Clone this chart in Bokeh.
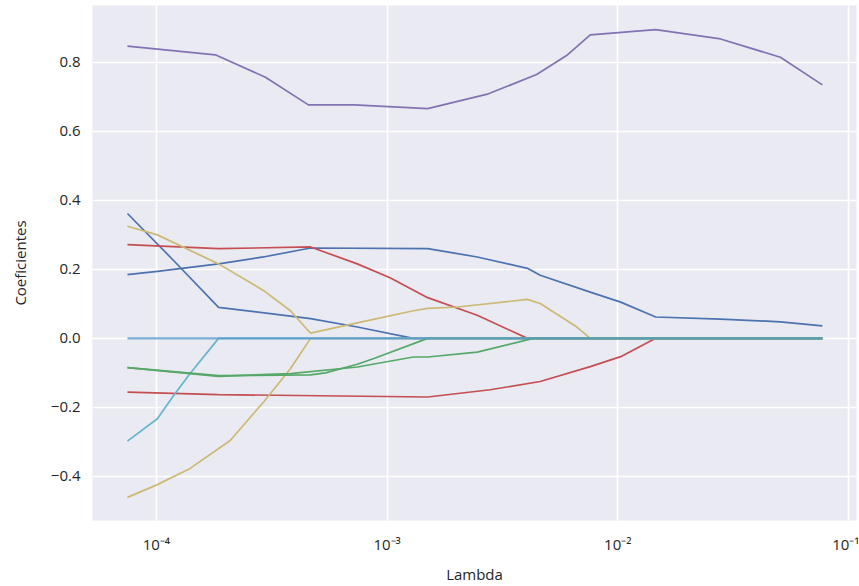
from bokeh.plotting import figure
from bokeh.models import FixedTicker, CustomJSTickFormatter, Range1d
from bokeh.embed import file_html
from bokeh.resources import INLINE

# ---- data (lambda, coefficient) ----
x_ticks = [1e-4, 1e-3, 1e-2, 1e-1]
y_ticks = [-0.4, -0.2, 0.0, 0.2, 0.4, 0.6, 0.8]

purple_lam = [7.49e-5, 1.80e-4, 2.97e-4, 4.56e-4, 7.2e-4, 1.50e-3, 2.75e-3, 4.45e-3, 6.0e-3, 7.60e-3, 1.46e-2, 2.79e-2, 5.07e-2, 7.71e-2]
purple_coef = [0.847, 0.822, 0.757, 0.677, 0.677, 0.666, 0.709, 0.765, 0.820, 0.880, 0.895, 0.868, 0.815, 0.735]

blue_a_lam = [7.49e-5, 1.01e-4, 1.86e-4, 2.91e-4, 4.66e-4, 1.50e-3, 2.46e-3, 4.06e-3, 4.61e-3, 7.60e-3, 1.03e-2, 1.46e-2, 2.79e-2, 5.07e-2, 7.71e-2]
blue_a_coef = [0.185, 0.194, 0.216, 0.236, 0.262, 0.260, 0.236, 0.203, 0.183, 0.134, 0.105, 0.062, 0.056, 0.048, 0.036]

blue_b_lam = [7.49e-5, 1.19e-4, 1.86e-4, 4.66e-4, 7.43e-4, 1.30e-3, 7.71e-2]
blue_b_coef = [0.362, 0.225, 0.090, 0.057, 0.033, 0.0, 0.0]

red_a_lam = [7.49e-5, 1.86e-4, 4.66e-4, 7.43e-4, 1.03e-3, 1.50e-3, 2.46e-3, 4.06e-3, 7.71e-2]
red_a_coef = [0.272, 0.260, 0.265, 0.216, 0.176, 0.118, 0.067, 0.0, 0.0]

red_b_lam = [7.49e-5, 1.86e-4, 1.50e-3, 2.80e-3, 4.61e-3, 7.60e-3, 1.03e-2, 1.46e-2, 7.71e-2]
red_b_coef = [-0.156, -0.163, -0.170, -0.149, -0.125, -0.082, -0.053, 0.0, 0.0]

yellow_a_lam = [7.49e-5, 1.01e-4, 1.86e-4, 2.91e-4, 3.81e-4, 4.66e-4, 7.43e-4, 1.30e-3, 1.50e-3, 2.02e-3, 4.06e-3, 4.61e-3, 6.55e-3, 7.60e-3, 7.71e-2]
yellow_a_coef = [0.325, 0.300, 0.216, 0.139, 0.080, 0.015, 0.045, 0.080, 0.087, 0.091, 0.113, 0.101, 0.036, 0.0, 0.0]

yellow_b_lam = [7.49e-5, 1.01e-4, 1.40e-4, 2.09e-4, 2.91e-4, 3.81e-4, 4.66e-4, 7.71e-2]
yellow_b_coef = [-0.461, -0.424, -0.377, -0.296, -0.185, -0.088, 0.0, 0.0]

cyan_lam = [7.49e-5, 1.01e-4, 1.19e-4, 1.40e-4, 1.86e-4, 7.71e-2]
cyan_coef = [-0.298, -0.233, -0.165, -0.102, 0.0, 0.0]

green_a_lam = [7.49e-5, 1.86e-4, 4.66e-4, 5.41e-4, 7.43e-4, 8.89e-4, 1.50e-3, 7.71e-2]
green_a_coef = [-0.085, -0.108, -0.106, -0.100, -0.075, -0.057, 0.0, 0.0]

green_b_lam = [7.49e-5, 1.86e-4, 3.81e-4, 7.43e-4, 1.30e-3, 1.50e-3, 2.46e-3, 4.30e-3, 7.71e-2]
green_b_coef = [-0.085, -0.110, -0.102, -0.083, -0.054, -0.054, -0.040, 0.0, 0.0]

zero_lam = [7.49e-5, 7.71e-2]
zero_coef = [0.0, 0.0]

series = [
    (purple_lam, purple_coef, "#8172B2"),
    (blue_a_lam, blue_a_coef, "#4C72B0"),
    (blue_b_lam, blue_b_coef, "#4C72B0"),
    (red_a_lam, red_a_coef, "#C44E52"),
    (red_b_lam, red_b_coef, "#C44E52"),
    (yellow_a_lam, yellow_a_coef, "#CCB974"),
    (yellow_b_lam, yellow_b_coef, "#CCB974"),
    (cyan_lam, cyan_coef, "#64B5CD"),
    (green_a_lam, green_a_coef, "#55A868"),
    (green_b_lam, green_b_coef, "#55A868"),
]

FONT = "Open Sans"
TXT = "#262626"

p = figure(width=859, height=586, x_axis_type="log",
           x_range=Range1d(10 ** -4.277, 10 ** -0.965),
           y_range=Range1d(-0.528, 0.965),
           output_backend="svg", toolbar_location=None,
           min_border_left=92, min_border_right=3, min_border_top=5, min_border_bottom=60)

p.background_fill_color = "#EAEAF2"
p.border_fill_color = "white"
p.outline_line_color = None

for lam, coef, col in series:
    p.line(lam, coef, line_color=col, line_width=1.7)
p.line(zero_lam, zero_coef, line_color="#5A9CCB", line_alpha=0.8, line_width=2.4)

p.xaxis.ticker = FixedTicker(ticks=x_ticks, minor_ticks=[])
p.yaxis.ticker = FixedTicker(ticks=y_ticks, minor_ticks=[])
p.xaxis.formatter = CustomJSTickFormatter(code="""
const e = Math.round(Math.log10(tick));
const sup = {"-": "\u207b", "0": "\u2070", "1": "\u00b9", "2": "\u00b2", "3": "\u00b3",
             "4": "\u2074", "5": "\u2075", "6": "\u2076", "7": "\u2077", "8": "\u2078", "9": "\u2079"};
return "10" + String(e).split("").map(c => sup[c]).join("");
""")
p.yaxis.formatter = CustomJSTickFormatter(code="""
return (tick < -1e-9 ? "\u2212" : "") + Math.abs(tick).toFixed(1);
""")

for ax in (p.xaxis[0], p.yaxis[0]):
    ax.axis_line_color = None
    ax.major_tick_line_color = None
    ax.minor_tick_line_color = None
    ax.major_tick_in = 0
    ax.major_tick_out = 0
    ax.major_label_text_font = FONT
    ax.major_label_text_font_size = "15px"
    ax.major_label_text_color = TXT
    ax.axis_label_text_font = FONT
    ax.axis_label_text_font_size = "15px"
    ax.axis_label_text_font_style = "normal"
    ax.axis_label_text_color = TXT

p.xaxis.axis_label = "Lambda"
p.yaxis.axis_label = "Coeficientes"
p.xaxis.major_label_standoff = 13
p.yaxis.major_label_standoff = 12
p.xaxis.axis_label_standoff = 7
p.yaxis.axis_label_standoff = 18

p.xgrid.grid_line_color = "white"
p.ygrid.grid_line_color = "white"
p.xgrid.grid_line_width = 1.6
p.ygrid.grid_line_width = 1.6

open("out.html", "w").write(file_html(p, INLINE))
